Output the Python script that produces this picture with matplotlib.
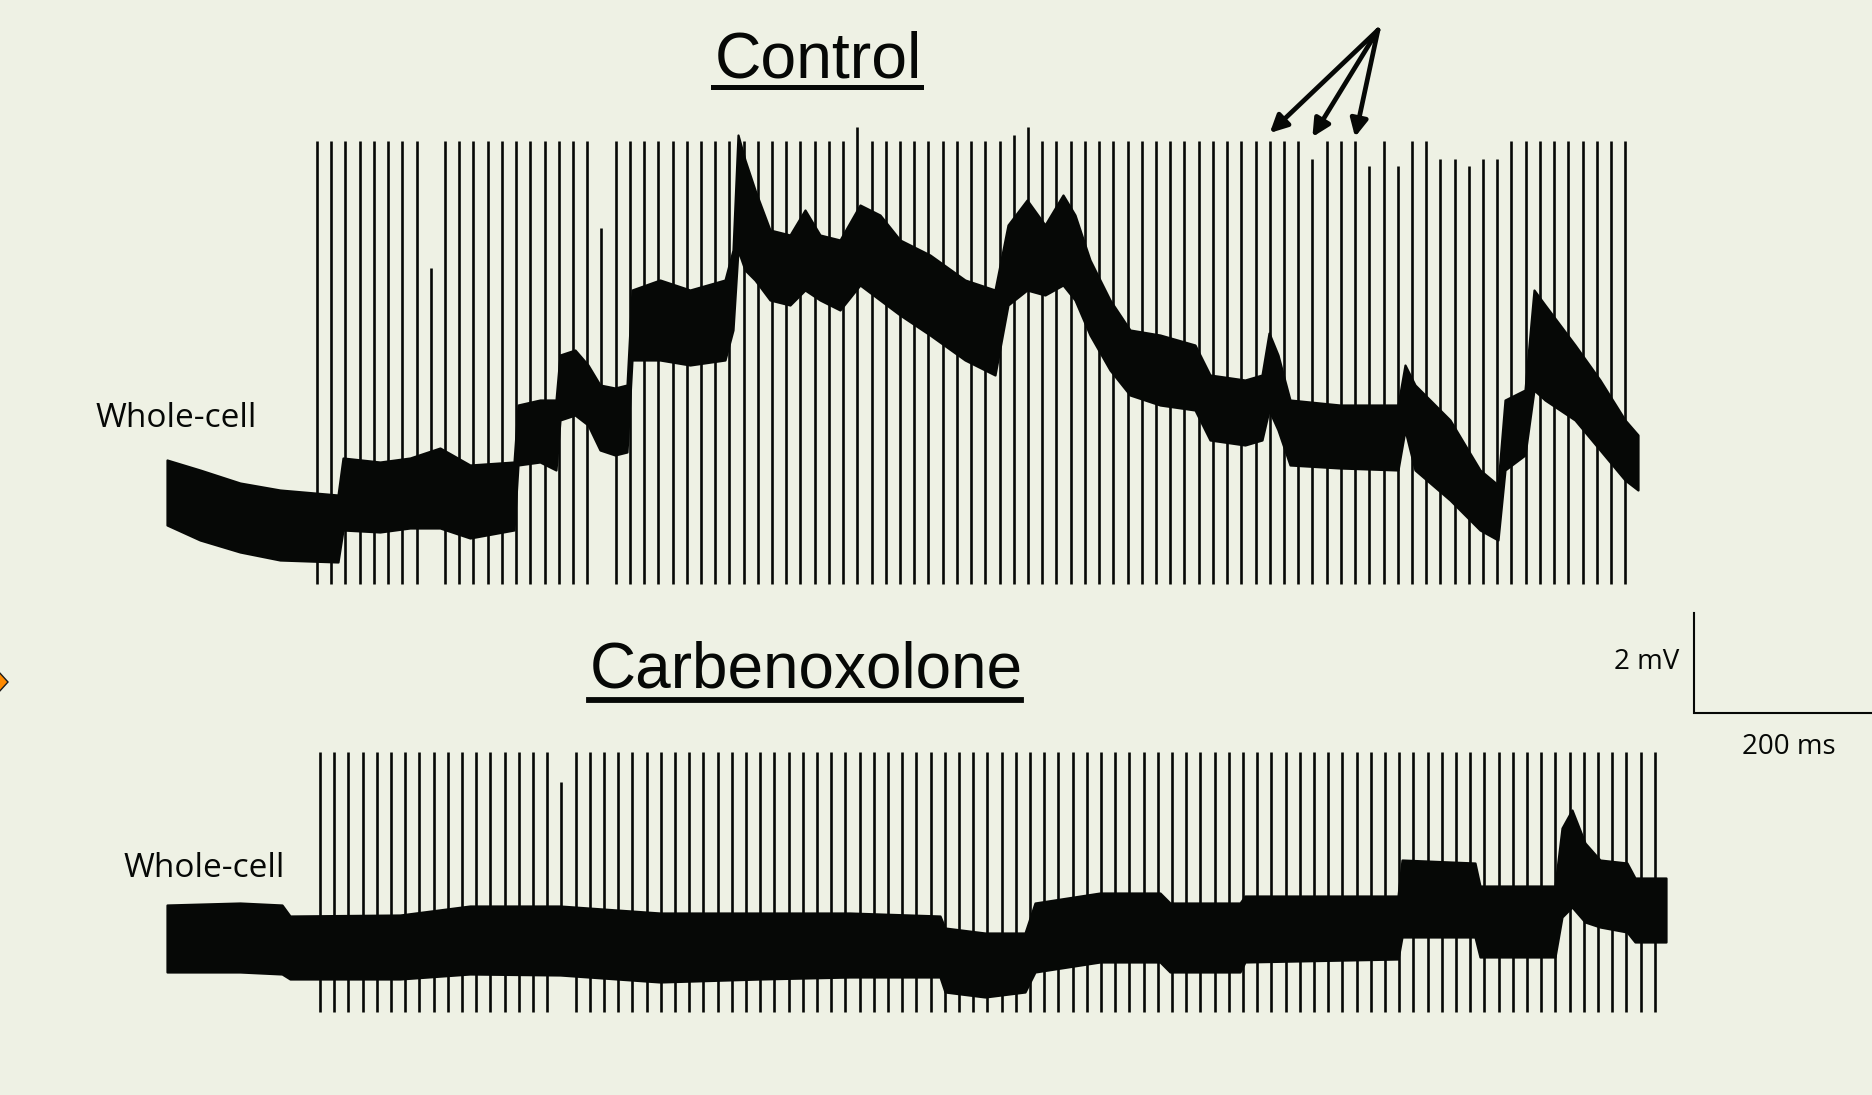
import matplotlib
matplotlib.use("Agg")
import matplotlib.pyplot as plt
from matplotlib.lines import Line2D
from matplotlib.patches import Polygon

# ---------------------------------------------------------------------------
# Recordings (time in ms from trace start, membrane potential in mV relative
# to the initial resting level).  The noisy trace is stored as its envelope.
# ---------------------------------------------------------------------------
ctrl_t = [0, 33, 73, 113, 171, 176, 213, 243, 273, 303, 347, 351, 373, 389,
          393, 408, 421, 433, 448, 460, 465, 493, 523, 558, 566, 571, 578,
          588, 603, 623, 638, 653, 673, 693, 713, 733, 763, 798, 828, 841,
          860, 878, 896, 908, 923, 943, 963, 993, 1028, 1043, 1078, 1095,
          1102, 1111, 1123, 1173, 1231, 1238, 1248, 1283, 1313, 1331, 1338,
          1358, 1367, 1378, 1408, 1433, 1458, 1471]
ctrl_hi = [0.80, 0.60, 0.34, 0.20, 0.10, 0.84, 0.76, 0.84, 1.04, 0.70, 0.76,
           1.90, 2.00, 2.00, 2.90, 3.00, 2.70, 2.30, 2.24, 2.30, 4.20, 4.40,
           4.20, 4.40, 5.00, 7.30, 6.80, 6.20, 5.40, 5.30, 5.80, 5.30, 5.20,
           5.90, 5.70, 5.20, 4.90, 4.40, 4.20, 5.50, 6.00, 5.50, 6.10, 5.70,
           4.80, 4.00, 3.40, 3.30, 3.10, 2.50, 2.40, 2.50, 3.34, 2.90, 2.00,
           1.90, 1.90, 2.70, 2.30, 1.60, 0.60, 0.30, 2.00, 2.20, 4.20, 3.90,
           3.10, 2.40, 1.60, 1.30]
ctrl_lo = [-0.50, -0.80, -1.04, -1.20, -1.24, -0.60, -0.64, -0.56, -0.56,
           -0.76, -0.60, 0.70, 0.76, 0.60, 1.60, 1.70, 1.50, 1.00, 0.90, 0.96,
           2.80, 2.80, 2.70, 2.80, 3.40, 5.00, 4.60, 4.40, 4.00, 3.90, 4.20,
           4.00, 3.80, 4.30, 4.00, 3.70, 3.30, 2.80, 2.50, 3.90, 4.20, 4.10,
           4.30, 4.00, 3.30, 2.60, 2.10, 1.90, 1.80, 1.20, 1.10, 1.20, 1.80,
           1.40, 0.70, 0.64, 0.60, 1.40, 0.60, 0.00, -0.60, -0.80, 0.60, 0.90,
           2.20, 2.00, 1.60, 1.00, 0.40, 0.20]

cbx_t = [0, 73, 115, 123, 233, 303, 393, 493, 593, 683, 773, 778, 818, 858,
         868, 933, 993, 1003, 1073, 1078, 1231, 1235, 1308, 1313, 1388, 1395,
         1405, 1418, 1433, 1460, 1468, 1499]
cbx_hi = [0.70, 0.74, 0.70, 0.48, 0.50, 0.68, 0.68, 0.54, 0.54, 0.54, 0.48,
          0.24, 0.14, 0.14, 0.74, 0.94, 0.94, 0.74, 0.74, 0.88, 0.88, 1.60,
          1.54, 1.08, 1.08, 2.24, 2.60, 1.94, 1.60, 1.54, 1.24, 1.24]
cbx_lo = [-0.64, -0.64, -0.68, -0.78, -0.78, -0.68, -0.70, -0.84, -0.78,
          -0.74, -0.74, -1.04, -1.14, -1.04, -0.64, -0.44, -0.44, -0.64, -0.64,
          -0.44, -0.38, 0.06, 0.06, -0.34, -0.34, 0.46, 0.66, 0.36, 0.26, 0.16,
          -0.04, -0.04]

# Stimulus trains (regular pulses) and their clipped artifacts (mV)
ctrl_stim_onset = 150.0
ctrl_stim_interval = 14.22
ctrl_stim_count = 93
ctrl_artifact_top = 7.18
ctrl_artifact_bottom = -1.68
ctrl_artifact_exceptions = {8: (4.64, 0.26), 20: (5.44, 1.00),
                            38: (7.46, -1.68), 49: (7.30, -1.68),
                            50: (7.46, -1.68), 70: (6.82, -1.68),
                            74: (6.68, -1.68), 76: (6.68, -1.68),
                            79: (6.82, -1.68), 80: (6.82, -1.68),
                            81: (6.68, -1.68), 82: (6.82, -1.68),
                            83: (6.82, -1.68)}

cbx_stim_onset = 153.0
cbx_stim_interval = 14.20
cbx_stim_count = 95
cbx_artifact_top = 3.76
cbx_artifact_bottom = -1.44
cbx_artifact_exceptions = {17: (3.16, -0.50)}

# Pulses marked by the arrows
marked_pulses = [67, 70, 73]

# Scale bar
scale_ms = 200
scale_mv = 2

# ---------------------------------------------------------------------------
W, H, DPI = 1872, 1095, 100
PX_PER_MV = 50.0
BG = "#EEF1E4"
INK = "#060806"
X0 = 167          # trace start (pixels from left)
CTRL_REST = 500   # pixel row of the control resting level
CBX_REST = 940    # pixel row of the carbenoxolone resting level


def fx(px):
    return px / W


def fy(py):
    return 1 - py / H


fig = plt.figure(figsize=(W / DPI, H / DPI), dpi=DPI, facecolor=BG)
ax = fig.add_axes([0, 0, 1, 1])
ax.set_facecolor(BG)
ax.set_xlim(-X0, W - X0)
ax.set_ylim(-H / PX_PER_MV, 0)
ax.axis("off")

ctrl_off = -CTRL_REST / PX_PER_MV
cbx_off = -CBX_REST / PX_PER_MV


def draw_trace(t, hi, lo, off, onset, interval, count, top, bottom, exc):
    ax.fill_between(t, [v + off for v in lo], [v + off for v in hi],
                    color=INK, lw=1.6, edgecolor=INK, zorder=2)
    xs, y0s, y1s = [], [], []
    for k in range(count):
        tk = onset + k * interval
        a_top, a_bot = exc.get(k, (top, bottom))
        xs.append(tk)
        y0s.append(a_bot + off)
        y1s.append(a_top + off)
    ax.vlines(xs, y0s, y1s, color=INK, lw=1.9, zorder=3)


draw_trace(ctrl_t, ctrl_hi, ctrl_lo, ctrl_off, ctrl_stim_onset,
           ctrl_stim_interval, ctrl_stim_count, ctrl_artifact_top,
           ctrl_artifact_bottom, ctrl_artifact_exceptions)
draw_trace(cbx_t, cbx_hi, cbx_lo, cbx_off, cbx_stim_onset,
           cbx_stim_interval, cbx_stim_count, cbx_artifact_top,
           cbx_artifact_bottom, cbx_artifact_exceptions)

# Arrows pointing at selected stimulus artifacts
arrow_origin = (1378 - X0, -30 / PX_PER_MV)
for k, tip_row in zip(marked_pulses, [133, 137, 137]):
    tk = ctrl_stim_onset + k * ctrl_stim_interval
    ax.annotate("", xy=(tk, -tip_row / PX_PER_MV), xytext=arrow_origin,
                arrowprops=dict(arrowstyle="-|>", lw=3.4, color=INK,
                                mutation_scale=26, shrinkA=0, shrinkB=0),
                zorder=4)

# Scale bar
sb_t = 1694 - X0
sb_y = -713 / PX_PER_MV
ax.plot([sb_t, sb_t, sb_t + scale_ms], [sb_y + scale_mv, sb_y, sb_y],
        color=INK, lw=1.5, solid_joinstyle="miter", clip_on=False)

# Titles with underline
title_font = "Liberation Sans"
fig.text(fx(715), fy(77), "Control", fontsize=46.3, family=title_font,
         ha="left", va="baseline", color=INK)
fig.add_artist(Line2D([fx(713), fx(921)], [fy(86.5), fy(86.5)],
                      color=INK, lw=3.6, transform=fig.transFigure))
fig.text(fx(590), fy(687), "Carbenoxolone", fontsize=46, family=title_font,
         ha="left", va="baseline", color=INK)
fig.add_artist(Line2D([fx(589), fx(1021)], [fy(700), fy(700)],
                      color=INK, lw=4.2, transform=fig.transFigure))

label_font = "Open Sans"
fig.text(fx(96), fy(427), "Whole-cell", fontsize=24, family=label_font,
         ha="left", va="baseline", color=INK)
fig.text(fx(124), fy(877), "Whole-cell", fontsize=24, family=label_font,
         ha="left", va="baseline", color=INK)
fig.text(fx(1614), fy(669), f"{scale_mv} mV", fontsize=20,
         family=label_font, ha="left", va="baseline", color=INK)
fig.text(fx(1742), fy(754), f"{scale_ms} ms", fontsize=20,
         family=label_font, ha="left", va="baseline", color=INK)

# Orange marker at the left edge
diamond = Polygon([[fx(-12), fy(682)], [fx(-2), fy(671)], [fx(8), fy(682)],
                   [fx(-2), fy(693)]], closed=True, facecolor="#FF8A00",
                  edgecolor="#1a1a1a", lw=1.0, transform=fig.transFigure)
fig.add_artist(diamond)

fig.savefig("out.png", dpi=DPI, facecolor=BG)
